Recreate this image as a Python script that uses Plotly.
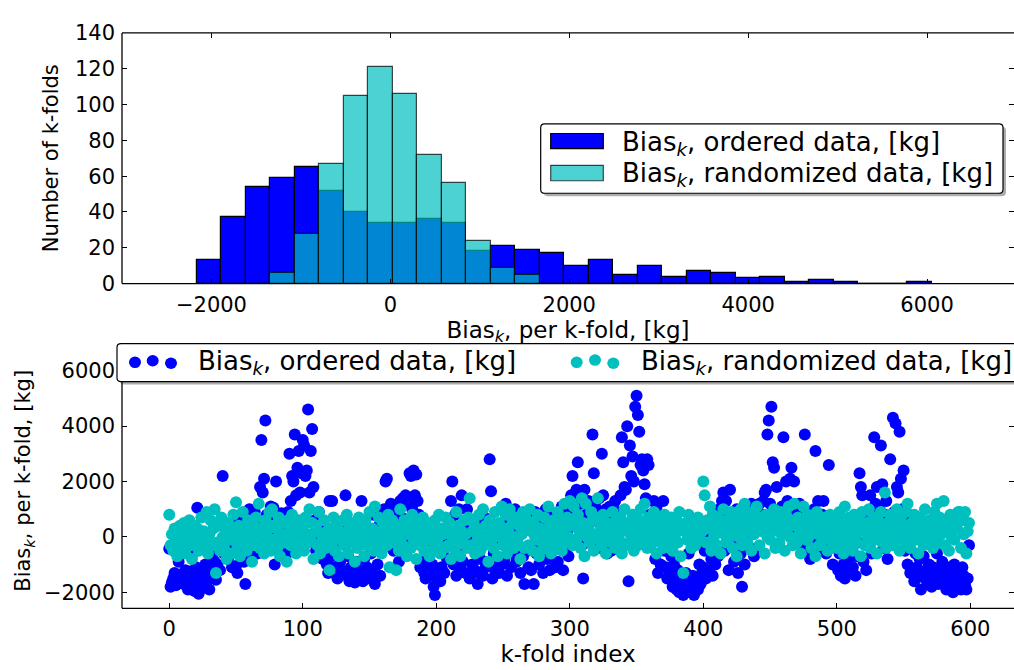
import plotly.graph_objects as go

W, H = 1014, 670

# ---------------- data ----------------
# histogram (bin counts)
bin_start = -2165
bin_width = 274
ordered_counts = [13, 37, 54, 59, 65, 52, 40, 34, 34, 36, 34, 18, 21, 19, 17,
                  10, 13, 5, 10, 4, 7, 6, 3, 4, 1, 2, 1, 0, 0, 1]
randomized_counts = [0, 0, 0, 6, 28, 67, 105, 121, 106, 72, 56, 24, 9, 5, 0,
                     0, 0, 0, 0, 0, 0, 0, 0, 0, 0, 0, 0, 0, 0, 0]

# per k-fold bias (estimated from the scatter)
bias_ordered = [
    -430, -1800, -1650, -1500, -1300, -1750, -1400, -900, -1600, -1450,
    -1350, -1700, -1200, -1550, -1900, -1250, -1800, -650, -1500, -1950,
    -1100, 1050, -2050, -1700, -1400, -1850, -1300, -1000, -1600, -1150,
    -1900, -1450, -700, -1250, -900, -1550, -1000, -400, -1200, -300,
    2200, -600, -150, 300, -800, 150, 450, -1100, -350, 500,
    -1050, -1300, 400, -200, 700, -500, -900, -1700, -750, 100,
    1000, -300, 400, 700, 900, 150, -600, 600, 1800, 3500,
    1600, 2100, 4200, 800, 500, -200, 1100, 300, 1050, -1000,
    2000, 600, -150, 350, 850, -350, 200, 600, -600, 900,
    3000, 1300, 2200, 2000, 3700, 1500, 2500, 3100, 1600, 2300,
    3500, 3300, 2200, 2400, 4600, 1600, 3100, 3900, 1800, 600,
    -500, 200, 900, -100, 600, -800, -300, 250, -1000, -1300,
    1300, -700, 1300, -1100, -400, 100, -1500, 350, -900, -1200,
    -200, 500, 1500, -1400, -700, -1600, -1100, 200, -1300, -1650,
    -900, -1500, 300, -1200, 1300, -1600, -800, -1400, -1100, 100,
    -1500, -600, -1300, 800, -1700, -200, -1000, 400, -1400, -500,
    500, 1000, 2000, 2100, 700, -300, 1200, 900, -500, 300,
    1100, 600, -900, 1300, 700, 1400, 200, 1500, 1250, -200,
    2300, 2200, 1000, 2400, 1500, 2250, 1300, 800, -1100, 400,
    -900, -1300, -1500, -500, -1100, 100, -1400, -1000, -1800, -2100,
    -1400, -1200, -300, -1600, -1100, -500, -1300, -200, -800, 300,
    600, 1300, 2000, -1000, 800, -1400, -600, 1000, -1200, 1500,
    -900, 400, -1300, 1000, -100, -1500, 200, -1000, -400, -1200,
    -600, -1700, -1300, -800, 500, -1400, 700, -1100, -200, -900,
    2800, 1650, -1500, -600, -1200, 300, -900, -1300, -100, -1000,
    500, -800, 1200, -1400, -300, 200, -1100, 400, -600, 1000,
    -900, -400, 800, -1300, 200, -700, -1700, 600, -500, -1100,
    300, -1200, -300, -1700, 900, -600, 100, -1000, 600, -400,
    -1300, 300, 1000, -800, -200, -1200, 700, -500, 400, -1100,
    100, -900, 500, -300, 1100, -1200, -400, 900, 200, -700,
    600, 1500, 2200, 900, 1000, 1700, 2700, 400, 1200, -300,
    -1500, 1700, 800, -200, 1300, 500, 1000, 3700, 2300, 1100,
    700, -400, 1400, 900, 3000, 1500, 300, 1000, -600, 600,
    1100, -500, 800, 200, 1300, -200, 900, 500, 1500, 3600,
    2700, 1800, 1700, 4000, -1600, 3300, 2200, 2900, 2000, 4700,
    5100, 4400, 3800, 2600, 2800, 2400, 1900, 1400, 2800, 2600,
    800, 500, -200, 1300, -800, 1100, -1300, 300, -1000, 200,
    1300, -500, -1100, -1500, -200, -1300, -700, -1800, -1000, -1600,
    -1900, -1200, -2000, -1500, -1800, -2100, -1700, -1300, -1900, -600,
    -2000, -1700, -1400, -2100, -1800, -1500, -1900, -1000, -1700, -1300,
    -1100, -500, -1500, -300, -1200, 100, -800, -1400, 200, -1000,
    500, -700, 1000, 300, 1300, 1600, -500, 1300, 800, -1200,
    1700, -300, 600, -900, 200, 1000, -1300, 400, -600, -1800,
    800, -1000, 1100, 100, 500, -400, 1200, 700, -700, 300,
    900, -500, 1200, 300, 800, 1300, 1600, 1700, 3700, 4200,
    1200, 4700, 2700, 2500, 900, 1800, 600, 1000, 300, 1100,
    3600, 800, 2000, 1300, 600, 2100, 2500, 900, 2000, 400,
    700, 200, 1200, -300, 800, 100, 3700, 500, -400, 900,
    -800, 300, 700, 1000, 3100, -200, 1300, 600, -500, 800,
    1300, 200, -600, 500, 2600, -300, 300, -1000, 700, -200,
    700, -1200, -600, -1400, 0, -1000, -1500, -300, -1200, -800,
    -1300, -500, -1100, 200, -1400, -700, -200, 2300, 1800, 1500,
    -900, 400, -1200, -300, 600, 1500, -600, 1000, 3600, 1200,
    1800, 500, 1000, 3300, 1900, -400, 800, 1300, -800, 200,
    2800, -200, 4300, 900, 4100, 1800, 1600, 3800, 2100, 1000,
    2400, -500, 300, -1000, 800, -1300, -1200, 100, -1600, -600,
    -1100, -1400, -800, -1900, -1300, -700, -1500, -1200, -1700, -1000,
    -1400, -1800, -1100, -1500, -1300, -600, -1700, -1200, -1600, -900,
    -1300, -1500, -1900, -1100, -1400, -1700, -1200, -2000, -1000, -1500,
    -1800, -1300, -1600, -1900, -1100, -1400, -1700, -1900, -1500, -300,
]

bias_randomized = [
    800, -300, 100, -500, 300, -200, -700, 200, 400, -400,
    0, 500, -600, 200, -100, 600, -300, -800, 100, 400,
    -200, 300, -500, 0, 700, -400, 200, -100, 900, -600,
    100, 600, -300, 300, 1000, -1300, -200, 400, -500, 700,
    0, -400, 300, -800, 500, -100, 200, -600, 800, 100,
    1250, -300, 400, -700, 0, 900, -200, 300, -500, 600,
    -100, 200, -900, 500, -300, 700, 100, 1200, -400, 300,
    0, -600, 600, 200, -200, 900, -500, 1000, 400, -100,
    300, -400, 700, -700, 100, 500, -200, 0, -900, 600,
    200, -300, 800, -100, 400, -600, 100, 600, -400, 0,
    300, -500, 700, 100, -200, 1000, -100, 500, -800, 200,
    400, -300, 900, -600, 100, -100, 600, -400, 200, 0,
    -1200, 300, -200, 700, -500, 100, 500, -700, 200, -100,
    600, -300, 0, 800, -600, 300, -200, 100, 500, -900,
    200, -400, 700, 0, -100, 400, -700, 600, -300, 100,
    900, -200, 300, -500, 1100, 0, -400, 700, 200, -600,
    500, -100, 300, -300, 800, -1100, 100, 600, -200, 400,
    -1200, 300, -500, 1000, 0, -300, 600, 200, -700, 500,
    100, -400, 800, -100, 300, -800, 600, 0, -300, 400,
    700, -500, 200, -100, 500, -700, 300, 100, -400, 600,
    0, -200, 800, -600, 300, 100, -400, 700, 200, -300,
    500, -800, 0, 300, -500, 900, -100, 400, -700, 200,
    -200, 600, 100, -400, 700, 1400, -300, 200, 500, -600,
    300, -100, 800, -500, 0, 1000, -300, 400, 100, -900,
    600, -200, 300, -400, 900, 100, -700, 500, 0, 1100,
    -300, 300, 800, -600, 200, 1000, -100, 500, -400, 0,
    700, -200, 400, -800, 100, 900, -400, 300, 600, -300,
    1000, 200, -500, 500, 0, -100, 800, -700, 300, 100,
    -400, 700, 200, -200, 1100, 400, -600, 0, 600, -300,
    300, 900, -100, 500, -500, 200, 1200, -200, 700, 0,
    1300, 400, -300, 1100, 600, -100, 800, 200, -400, 1400,
    500, -700, 1200, 0, 300, -200, 900, 600, -500, 100,
    700, 1400, -100, 400, -300, 800, 200, -600, 500, 0,
    300, -200, 900, 100, -400, 600, 200, -100, 700, -600,
    400, 1000, -300, 200, 500, -200, 0, 800, -500, 300,
    100, -300, 600, 1000, -100, 400, 1200, 200, -400, 700,
    0, 500, -200, 900, 300, -600, 600, 100, -100, 400,
    -400, 800, 200, -300, 500, 0, 700, -500, 300, 100,
    600, -200, 900, -700, 400, -1300, 200, 500, -100, 800,
    0, -400, 300, 600, -300, 100, 700, -100, 400, 200,
    2000, 1500, -200, 600, 300, 1100, -500, 800, 0, 400,
    -300, 700, 200, -600, 500, 1000, 100, -200, 600, -100,
    300, 900, -400, 200, 700, -700, 400, 0, 1000, -300,
    600, 1200, 200, -200, 800, 400, -500, 900, 100, 600,
    1100, 300, -300, 700, 200, 500, -600, 800, 0, 400,
    -100, 700, 300, 1000, -400, 600, 200, -200, 900, 100,
    500, -500, 800, 300, 1100, 0, 600, -300, 1200, 400,
    -200, 700, 100, -600, 500, 1100, 300, -100, 800, 0,
    400, -400, 600, 200, -700, 900, 100, -300, 500, 300,
    -100, 700, 200, -500, 400, 800, 0, -200, 600, 100,
    -400, 300, 900, -100, 500, -600, 1100, 200, -300, 700,
    0, 400, -500, 800, 100, -200, 600, 300, -700, 900,
    200, -300, 500, 0, 1000, -400, 300, 700, -100, 400,
    -600, 600, 100, 900, -200, 300, 1600, -400, 500, 0,
    800, 200, -300, 600, -100, 1000, 300, -500, 700, 100,
    400, -200, 900, 1200, 0, -400, 500, 200, 800, -100,
    300, -600, 700, 100, 400, -300, 1000, 200, -100, 600,
    0, 500, -400, 900, 300, 1200, -200, 700, 100, 400,
    1300, -300, 600, 200, -500, 800, 0, 400, -100, 700,
    300, 900, 900, -400, 600, 100, 900, -600, 200, 500,
]

hist_xticks = [-2000, 0, 2000, 4000, 6000]
hist_yticks = [0, 20, 40, 60, 80, 100, 120, 140]
scat_xticks = [0, 100, 200, 300, 400, 500, 600]
scat_yticks = [-2000, 0, 2000, 4000, 6000]

label_ordered = "Bias<sub><i>k</i></sub>, ordered data, [kg]"
label_random = "Bias<sub><i>k</i></sub>, randomized data, [kg]"

# ---------------- style ----------------
BLUE = "#0000FF"
CYAN = "#00BFBF"
CYAN_A = "rgba(0,191,191,0.7)"
EDGE_A = "rgba(0,0,0,0.7)"
FONT = "DejaVu Sans"

bin_centers = [bin_start + bin_width * (i + 0.5) for i in range(len(ordered_counts))]

fig = go.Figure()
fig.add_trace(go.Bar(x=bin_centers, y=ordered_counts, width=bin_width,
                     marker=dict(color=BLUE, line=dict(color="black", width=1.2)),
                     name="ordered", showlegend=False, xaxis="x", yaxis="y"))
fig.add_trace(go.Bar(x=bin_centers, y=randomized_counts, width=bin_width,
                     marker=dict(color=CYAN_A, line=dict(color=EDGE_A, width=1.2)),
                     name="randomized", showlegend=False, xaxis="x", yaxis="y"))
fig.add_trace(go.Scatter(x=list(range(len(bias_ordered))), y=bias_ordered, mode="markers",
                         marker=dict(color=BLUE, size=12, line=dict(width=0)),
                         showlegend=False, xaxis="x2", yaxis="y2"))
fig.add_trace(go.Scatter(x=list(range(len(bias_randomized))), y=bias_randomized, mode="markers",
                         marker=dict(color=CYAN, size=12, line=dict(width=0)),
                         showlegend=False, xaxis="x2", yaxis="y2"))

# pixel geometry of the axes boxes
AX_L, AX_R = 122, 1014
T_TOP, T_BOT = 21.7, 281.7
B_TOP, B_BOT = 354.0, 618.5


def px(x):
    return x / W


def py(y):
    return 1 - y / H


axis_common = dict(ticks="inside", ticklen=5, tickwidth=1, tickcolor="black",
                   mirror="ticks", showline=False, showgrid=False, zeroline=False,
                   tickfont=dict(family=FONT, size=21, color="black"),
                   exponentformat="none", ticklabelstandoff=6)

fig.update_layout(
    width=W, height=H, autosize=False,
    margin=dict(l=0, r=0, t=0, b=0),
    paper_bgcolor="white", plot_bgcolor="white",
    barmode="overlay", bargap=0,
    font=dict(family=FONT, color="black"),
    xaxis=dict(domain=[px(AX_L), px(AX_R)], range=[-3000, 6972], tickvals=hist_xticks,
               anchor="y",
               title=dict(text="Bias<sub><i>k</i></sub>, per k-fold, [kg]",
                          font=dict(size=23), standoff=0),
               **axis_common),
    yaxis=dict(domain=[py(T_BOT), py(T_TOP)], range=[0, 140], tickvals=hist_yticks,
               anchor="x",
               title=dict(text="Number of k-folds", font=dict(size=21), standoff=10),
               **axis_common),
    xaxis2=dict(domain=[px(AX_L), px(AX_R)], range=[-35.4, 632.7], tickvals=scat_xticks,
                anchor="y2",
                title=dict(text="k-fold index", font=dict(size=23), standoff=3),
                **axis_common),
    yaxis2=dict(domain=[py(B_BOT), py(B_TOP)], range=[-2580, 6630], tickvals=scat_yticks,
                anchor="x2",
                title=dict(text="Bias<sub><i>k</i></sub>, per k-fold, [kg]",
                           font=dict(size=21), standoff=7),
                **axis_common),
)

shapes = []


def line(x0, y0, x1, y1, w=1.3):
    shapes.append(dict(type="line", xref="paper", yref="paper",
                       x0=px(x0), y0=py(y0), x1=px(x1), y1=py(y1),
                       line=dict(color="black", width=w), layer="above"))


# spines (left, bottom, top) - right spine lies just beyond the picture edge
for top, bot in ((T_TOP, T_BOT), (B_TOP, B_BOT)):
    line(AX_L, top, AX_L, bot)
    line(AX_L, bot, AX_R, bot)
    line(AX_L, top, AX_R, top)


def rrect(x0, y0, x1, y1, r):
    def P(x, y):
        return f"{px(x):.5f},{py(y):.5f}"
    return (f"M {P(x0 + r, y0)} L {P(x1 - r, y0)} Q {P(x1, y0)} {P(x1, y0 + r)} "
            f"L {P(x1, y1 - r)} Q {P(x1, y1)} {P(x1 - r, y1)} L {P(x0 + r, y1)} "
            f"Q {P(x0, y1)} {P(x0, y1 - r)} L {P(x0, y0 + r)} Q {P(x0, y0)} {P(x0 + r, y0)} Z")


def legend_box(x0, y0, x1, y1):
    shapes.append(dict(type="path", xref="paper", yref="paper",
                       path=rrect(x0 + 3, y0 + 3, x1 + 3, y1 + 3, 4),
                       fillcolor="rgba(0,0,0,0.32)", line=dict(width=0), layer="above"))
    shapes.append(dict(type="path", xref="paper", yref="paper",
                       path=rrect(x0, y0, x1, y1, 4),
                       fillcolor="white", line=dict(color="black", width=1.2), layer="above"))


def patch(x0, y0, x1, y1, fill, edge):
    shapes.append(dict(type="rect", xref="paper", yref="paper",
                       x0=px(x0), y0=py(y0), x1=px(x1), y1=py(y1),
                       fillcolor=fill, line=dict(color=edge, width=1.2), layer="above"))


def dot(cx, cy, color, r=6):
    shapes.append(dict(type="circle", xref="paper", yref="paper",
                       x0=px(cx - r), y0=py(cy + r), x1=px(cx + r), y1=py(cy - r),
                       fillcolor=color, line=dict(width=0), layer="above"))


# top legend
legend_box(540.7, 116, 1003, 188)
patch(550.7, 126, 603.3, 141.7, BLUE, "black")
patch(550.7, 159, 603.3, 175, CYAN_A, EDGE_A)

# bottom legend
legend_box(117, 344, 1030, 383.3)
for cx, cy in ((135, 363.3), (152.7, 361.7), (171, 364.3)):
    dot(cx, cy, BLUE)
for cx, cy in ((576.7, 363.3), (595, 361), (613.3, 364.3)):
    dot(cx, cy, CYAN)

annotations = []


def text(x, y, s):
    annotations.append(dict(x=px(x), y=py(y), xref="paper", yref="paper",
                            text=s, showarrow=False, xanchor="left", yanchor="middle",
                            font=dict(family=FONT, size=26, color="black")))


text(620, 136, label_ordered)
text(620, 169, label_random)
text(196, 364, label_ordered)
text(639, 364, label_random)

fig.update_layout(shapes=shapes, annotations=annotations)

fig.write_html("out.html")
